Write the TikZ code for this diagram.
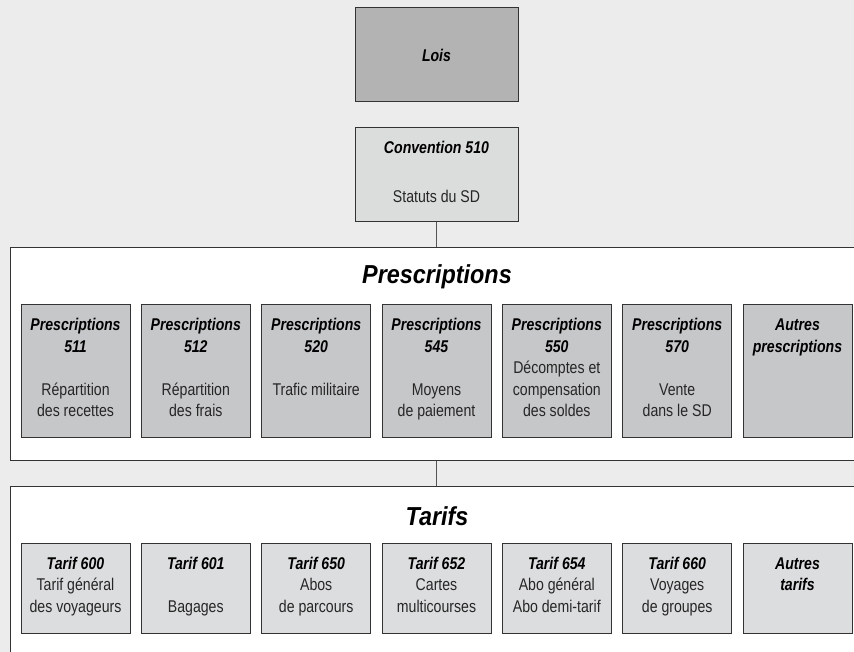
\documentclass[tikz,border=0pt]{standalone}
\usepackage{fontspec}
\setmainfont[FakeStretch=0.83]{Liberation Sans}
\newfontfamily\titlefont[FakeStretch=0.9]{Liberation Sans}
\definecolor{bgc}{HTML}{EBECEB}
\definecolor{edgec}{HTML}{333333}
\definecolor{linec}{HTML}{555555}
\definecolor{loisc}{HTML}{B3B3B3}
\definecolor{convc}{HTML}{DBDCDC}
\definecolor{presc}{HTML}{C6C7C8}
\definecolor{tarc}{HTML}{DCDDDE}
\definecolor{txtc}{HTML}{262626}
\newcommand\hd[1]{{\color{black}\bfseries\itshape #1}}
\tikzset{
  bx/.style={draw=edgec, line width=1pt, rectangle, inner sep=0pt, align=center,
    text=txtc, font=\fontsize{17}{21.5}\selectfont,
    execute at begin node=\strut, execute at end node=\strut},
  lawbox/.style={bx, fill=loisc, minimum width=163pt, minimum height=94pt,
    text height=12.2pt, text depth=0pt},
  convbox/.style={bx, fill=convc, minimum width=163pt, minimum height=94pt},
  presbox/.style={bx, fill=presc, minimum width=109pt, minimum height=132pt},
  tarbox/.style={bx, fill=tarc, minimum width=109pt, minimum height=90pt},
  frame/.style={draw=edgec, line width=1pt, fill=white, inner sep=0pt},
  ttl/.style={font=\titlefont\fontsize{26}{30}\selectfont\bfseries\itshape, inner sep=0pt, text=black},
  link/.style={draw=linec, line width=1.2pt}
}
\begin{document}
\begin{tikzpicture}[x=1pt,y=-1pt]
\fill[bgc] (0,0) rectangle (854,652);
\clip (0,0) rectangle (854,652);
\useasboundingbox (0,0) rectangle (854,652);

% top boxes
\node[lawbox] (lois) at (436.5,55) {\hd{Lois}};
\node[convbox] (conv) at (436.5,175) {\hd{Convention 510}\\[27.5pt]Statuts du SD};

% frames
\node[frame, minimum width=860pt, minimum height=212pt] (pframe) at (440,354) {};
\node[frame, minimum width=860pt, minimum height=214pt] (tframe) at (440,593) {};
\node[ttl] (ptitle) at (437,277) {Prescriptions};
\node[ttl] (ttitle) at (437,516) {Tarifs};

% connectors
\draw[link] (conv.south) -- (conv.south |- pframe.north);
\draw[link] (conv.south |- pframe.south) -- (conv.south |- tframe.north);

% prescriptions
\node[presbox] (p511) at (75.5,371) {\hd{Prescriptions}\\\hd{511}\\~\\Répartition\\des recettes};
\node[presbox] (p512) at (195.8,371) {\hd{Prescriptions}\\\hd{512}\\~\\Répartition\\des frais};
\node[presbox] (p520) at (316.2,371) {\hd{Prescriptions}\\\hd{520}\\~\\Trafic militaire\\~};
\node[presbox] (p545) at (436.5,371) {\hd{Prescriptions}\\\hd{545}\\~\\Moyens\\de paiement};
\node[presbox] (p550) at (556.8,371) {\hd{Prescriptions}\\\hd{550}\\Décomptes et\\compensation\\des soldes};
\node[presbox] (p570) at (677.2,371) {\hd{Prescriptions}\\\hd{570}\\~\\Vente\\dans le SD};
\node[presbox] (pautres) at (797.5,371) {\hd{Autres}\\\hd{prescriptions}\\~\\~\\~};

% tarifs
\node[tarbox] (t600) at (75.5,588) {\hd{Tarif 600}\\Tarif général\\des voyageurs};
\node[tarbox] (t601) at (195.8,588) {\hd{Tarif 601}\\~\\Bagages};
\node[tarbox] (t650) at (316.2,588) {\hd{Tarif 650}\\Abos\\de parcours};
\node[tarbox] (t652) at (436.5,588) {\hd{Tarif 652}\\Cartes\\multicourses};
\node[tarbox] (t654) at (556.8,588) {\hd{Tarif 654}\\Abo général\\Abo demi-tarif};
\node[tarbox] (t660) at (677.2,588) {\hd{Tarif 660}\\Voyages\\de groupes};
\node[tarbox] (tautres) at (797.5,588) {\hd{Autres}\\\hd{tarifs}\\~};
\end{tikzpicture}
\end{document}
